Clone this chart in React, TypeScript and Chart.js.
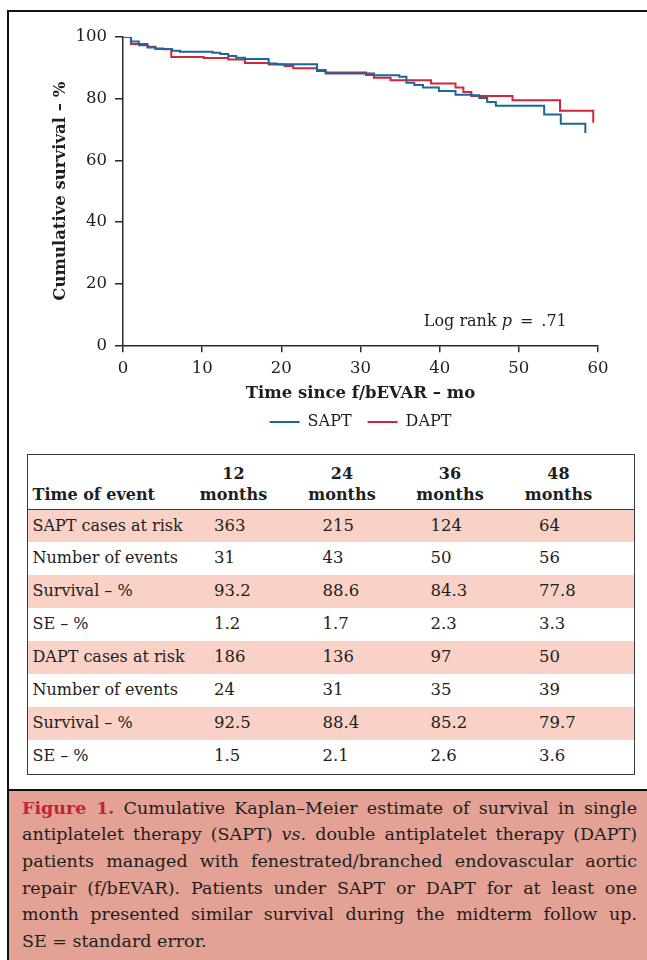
import React, { useEffect, useRef } from 'react';
import { Chart, registerables } from 'chart.js';

Chart.register(...registerables);

// ---- Kaplan–Meier step data (months, cumulative survival %) ----
const SAPT_TIME = [0, 1.0, 2.0, 3.1, 4.1, 6.2, 7.2, 11.3, 12.3, 13.3, 14.3, 15.4, 18.4, 19.4, 24.5, 25.6, 31.7, 34.9, 35.8, 36.8, 37.9, 39.9, 42.0, 44.0, 45.0, 46.0, 47.1, 53.2, 55.3, 58.4];
const SAPT_SURV = [100, 98.5, 97.3, 96.6, 96.1, 95.5, 95.2, 94.9, 94.5, 93.8, 93.3, 92.9, 91.4, 91.2, 89.0, 88.2, 87.6, 87.1, 85.2, 84.4, 83.6, 82.5, 81.3, 81.1, 80.2, 78.9, 77.7, 74.9, 71.9, 68.9];

const DAPT_TIME = [0, 1.0, 3.1, 4.1, 5.1, 6.1, 10.2, 13.3, 15.4, 18.4, 20.4, 21.5, 24.5, 25.6, 30.7, 31.7, 33.8, 38.9, 42.0, 43.0, 44.0, 49.2, 55.2, 59.4];
const DAPT_SURV = [100, 97.7, 96.8, 96.3, 96.0, 93.5, 93.2, 92.7, 91.6, 91.1, 90.6, 89.9, 89.3, 88.5, 87.7, 86.8, 86.0, 84.9, 83.6, 82.2, 80.9, 79.5, 76.1, 72.2];

const SERIES_NAMES = ['SAPT', 'DAPT'];
const X_TICK_STEP = 10;
const Y_TICK_STEP = 20;
const X_TITLE = 'Time since f/bEVAR – mo';
const Y_TITLE = 'Cumulative survival – %';
const LOGRANK_AT = [38, 7.5];

// ---- Table data ----
const TABLE_MONTHS = ['12', '24', '36', '48'];
const SAPT_AT_RISK = ['363', '215', '124', '64'];
const SAPT_EVENTS = ['31', '43', '50', '56'];
const SAPT_SURVIVAL = ['93.2', '88.6', '84.3', '77.8'];
const SAPT_SE = ['1.2', '1.7', '2.3', '3.3'];
const DAPT_AT_RISK = ['186', '136', '97', '50'];
const DAPT_EVENTS = ['24', '31', '35', '39'];
const DAPT_SURVIVAL = ['92.5', '88.4', '85.2', '79.7'];
const DAPT_SE = ['1.5', '2.1', '2.6', '3.6'];

const TABLE_ROWS = [
  { label: 'SAPT cases at risk', values: SAPT_AT_RISK },
  { label: 'Number of events', values: SAPT_EVENTS },
  { label: 'Survival – %', values: SAPT_SURVIVAL },
  { label: 'SE – %', values: SAPT_SE },
  { label: 'DAPT cases at risk', values: DAPT_AT_RISK },
  { label: 'Number of events', values: DAPT_EVENTS },
  { label: 'Survival – %', values: DAPT_SURVIVAL },
  { label: 'SE – %', values: DAPT_SE },
];

const FONT = 'DejaVu Serif';
const BLUE = '#1b679b';
const RED = '#d0263b';
const AXIS = '#2a2a2a';
const TEXT = '#1e1e1e';
const PINK = '#f9d1c7';
const CAPTION_BG = '#e3a295';
const CAPTION_RED = '#c4213a';

const toPoints = (xs: number[], ys: number[]) => xs.map((x, i) => ({ x, y: ys[i] }));

const logRankPlugin = {
  id: 'logRank',
  afterDatasetsDraw(chart: any) {
    const { ctx, scales } = chart;
    const px = scales.x.getPixelForValue(LOGRANK_AT[0]);
    const py = scales.y.getPixelForValue(LOGRANK_AT[1]);
    ctx.save();
    ctx.fillStyle = TEXT;
    ctx.textBaseline = 'middle';
    ctx.textAlign = 'left';
    ctx.font = `16px "${FONT}"`;
    ctx.fillText('Log rank', px, py);
    let cx = px + ctx.measureText('Log rank ').width;
    ctx.font = `italic 16px "${FONT}"`;
    ctx.fillText('p', cx, py);
    cx += ctx.measureText('p').width + 8;
    ctx.font = `16px "${FONT}"`;
    ctx.fillText('=', cx, py);
    cx += ctx.measureText('=').width + 8;
    ctx.fillText('.71', cx, py);
    ctx.restore();
  },
};

function KMChart() {
  const ref = useRef<HTMLCanvasElement | null>(null);
  useEffect(() => {
    if (!ref.current) return;
    const tickFont = { family: FONT, size: 16.5 };
    const titleFont = { family: FONT, size: 16.5, weight: 'bold' as const };
    const chart = new Chart(ref.current, {
      type: 'line',
      data: {
        datasets: [
          {
            label: SERIES_NAMES[0],
            data: toPoints(SAPT_TIME, SAPT_SURV),
            borderColor: BLUE,
            backgroundColor: BLUE,
            borderWidth: 2,
            pointRadius: 0,
            stepped: true,
            fill: false,
          },
          {
            label: SERIES_NAMES[1],
            data: toPoints(DAPT_TIME, DAPT_SURV),
            borderColor: RED,
            backgroundColor: RED,
            borderWidth: 2,
            pointRadius: 0,
            stepped: true,
            fill: false,
          },
        ],
      },
      options: {
        animation: false,
        responsive: true,
        maintainAspectRatio: false,
        devicePixelRatio: 1,
        layout: { padding: { top: 25, left: 37, right: 49, bottom: 0 } },
        plugins: {
          legend: {
            position: 'bottom',
            fullSize: false,
            labels: {
              usePointStyle: true,
              pointStyle: 'line',
              pointStyleWidth: 30,
              padding: 16,
              color: TEXT,
              font: { family: FONT, size: 16 },
            },
          },
          tooltip: { enabled: false },
        },
        scales: {
          x: {
            type: 'linear',
            min: 0,
            max: 60,
            ticks: { stepSize: X_TICK_STEP, padding: 7, color: TEXT, font: tickFont },
            grid: { drawOnChartArea: false, tickLength: 7, color: AXIS, lineWidth: 1.5 },
            border: { color: AXIS, width: 1.5 },
            title: { display: true, text: X_TITLE, color: TEXT, font: titleFont, padding: { top: 0, bottom: -5.2 } },
            afterFit: (s: any) => {
              s.height = 52.7;
            },
          },
          y: {
            type: 'linear',
            min: 0,
            max: 100,
            ticks: { stepSize: Y_TICK_STEP, padding: 8, color: TEXT, font: tickFont },
            grid: { drawOnChartArea: false, tickLength: 8, color: AXIS, lineWidth: 1.5 },
            border: { color: AXIS, width: 1.5 },
            title: { display: true, text: Y_TITLE, color: TEXT, font: titleFont, padding: { top: 5, bottom: 0 } },
            afterFit: (s: any) => {
              s.width = 77;
            },
          },
        },
      },
      plugins: [logRankPlugin],
    });
    return () => chart.destroy();
  }, []);
  return <canvas ref={ref} style={{ display: 'block' }} />;
}

const NUM_LEFT = [186, 294.5, 402.5, 511];
const COL_W = 108.5;

function DataTable() {
  const rowH = 263.5 / TABLE_ROWS.length;
  return (
    <div
      style={{
        position: 'absolute',
        left: 27,
        top: 454,
        width: 608,
        height: 321,
        border: '1.5px solid #3a3a3a',
        boxSizing: 'border-box',
        fontSize: 16.5,
        color: TEXT,
      }}
    >
      <div
        style={{
          position: 'relative',
          height: 54.5,
          borderBottom: '1.5px solid #3a3a3a',
          boxSizing: 'border-box',
          fontWeight: 'bold',
          fontSize: 16,
          lineHeight: '21px',
        }}
      >
        <div style={{ position: 'absolute', left: 4.5, bottom: 4, whiteSpace: 'nowrap' }}>Time of event</div>
        {TABLE_MONTHS.map((m, i) => (
          <div
            key={m}
            style={{
              position: 'absolute',
              left: NUM_LEFT[i] + 19.5,
              bottom: 4,
              transform: 'translateX(-50%)',
              textAlign: 'center',
              whiteSpace: 'nowrap',
            }}
          >
            <div>{m}</div>
            <div>months</div>
          </div>
        ))}
      </div>
      {TABLE_ROWS.map((row, r) => (
        <div
          key={r}
          style={{
            position: 'relative',
            height: rowH,
            background: r % 2 === 0 ? PINK : '#ffffff',
          }}
        >
          <div
            style={{
              position: 'absolute',
              left: 4.5,
              top: 0,
              lineHeight: `${rowH}px`,
              whiteSpace: 'nowrap',
              fontSize: 16,
            }}
          >
            {row.label}
          </div>
          {row.values.map((v, i) => (
            <div
              key={i}
              style={{
                position: 'absolute',
                left: NUM_LEFT[i],
                width: COL_W,
                top: 0,
                lineHeight: `${rowH}px`,
                whiteSpace: 'nowrap',
              }}
            >
              {v}
            </div>
          ))}
        </div>
      ))}
    </div>
  );
}

const lineStyle: React.CSSProperties = {
  textAlign: 'justify',
  textAlignLast: 'justify' as any,
  height: 26.7,
  lineHeight: '26.7px',
};

function Caption() {
  return (
    <div
      style={{
        position: 'absolute',
        left: 7,
        top: 789,
        width: 640,
        height: 171,
        background: CAPTION_BG,
        borderTop: '2px solid #111',
        borderLeft: '2px solid #111',
        boxSizing: 'border-box',
        padding: '3.7px 10px 0 13px',
        fontSize: 17.5,
        color: TEXT,
        overflow: 'hidden',
      }}
    >
      <div style={lineStyle}>
        <span style={{ color: CAPTION_RED, fontWeight: 'bold' }}>Figure 1.</span> Cumulative Kaplan–Meier estimate of
        survival in single
      </div>
      <div style={lineStyle}>
        antiplatelet therapy (SAPT) <i>vs.</i> double antiplatelet therapy (DAPT)
      </div>
      <div style={lineStyle}>patients managed with fenestrated/branched endovascular aortic</div>
      <div style={lineStyle}>repair (f/bEVAR). Patients under SAPT or DAPT for at least one</div>
      <div style={lineStyle}>month presented similar survival during the midterm follow up.</div>
      <div style={{ ...lineStyle, textAlignLast: 'left' as any, textAlign: 'left' }}>SE = standard error.</div>
    </div>
  );
}

export default function App() {
  return (
    <div
      style={{
        position: 'absolute',
        left: 0,
        top: 0,
        width: 647,
        height: 960,
        overflow: 'hidden',
        background: '#ffffff',
        fontFamily: `"${FONT}", serif`,
      }}
    >
      <div style={{ position: 'absolute', left: 9, top: 12, width: 638, height: 428 }}>
        <KMChart />
      </div>
      <DataTable />
      <Caption />
      <div style={{ position: 'absolute', left: 7, top: 10, width: 640, height: 2, background: '#111' }} />
      <div style={{ position: 'absolute', left: 7, top: 10, width: 2, height: 950, background: '#111' }} />
    </div>
  );
}
